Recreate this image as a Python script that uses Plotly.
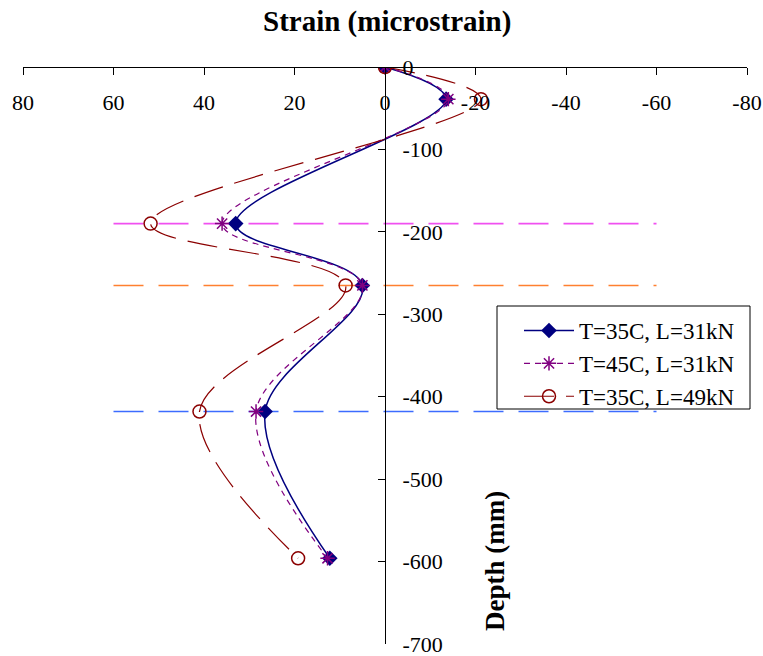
import plotly.graph_objects as go

depth = [0, -39, -190, -265, -418, -596]
s_35_31 = [0, -13.5, 33, 5, 26.5, 12.2]
s_45_31 = [0, -14, 36, 5, 28.5, 12.7]
s_35_49 = [0, -21.2, 51.8, 8.7, 41, 19.2]
names = ["T=35C, L=31kN", "T=45C, L=31kN", "T=35C, L=49kN"]

ref_depths = [-190, -265, -418]
ref_colors = ["#F050F0", "#FF8030", "#3C6CFF"]
ref_x = [60, -60]

xticks = [80, 60, 40, 20, 0, -20, -40, -60, -80]
yticks = [0, -100, -200, -300, -400, -500, -600, -700]

FONT = "Liberation Serif"

W, H, L, R, T, B = 763, 656, 23, 16, 67, 12
pw, ph = W - L - R, H - T - B


def px(x):
    return (x - L) / pw


def py(y):
    return (H - B - y) / ph


fig = go.Figure()

for d, c in zip(ref_depths, ref_colors):
    fig.add_trace(go.Scatter(x=ref_x, y=[d, d], mode="lines",
                             line=dict(color=c, width=1.6, dash="30px,15px"),
                             showlegend=False, hoverinfo="skip"))

fig.add_trace(go.Scatter(x=s_35_31, y=depth, name=names[0], mode="lines+markers",
                         line=dict(color="#000080", width=1.5, shape="spline", smoothing=1.0),
                         marker=dict(symbol="diamond", size=12, color="#000080")))
fig.add_trace(go.Scatter(x=s_45_31, y=depth, name=names[1], mode="lines+markers",
                         line=dict(color="#800080", width=1.2, shape="spline", smoothing=1.0, dash="6px,5px"),
                         marker=dict(symbol="asterisk-open", size=12, line=dict(color="#800080", width=1.5))))
fig.add_trace(go.Scatter(x=s_35_49, y=depth, name=names[2], mode="lines+markers",
                         line=dict(color="#8B0000", width=1.2, shape="spline", smoothing=1.0, dash="30px,12px"),
                         marker=dict(symbol="circle-open", size=13, color="#8B0000", line=dict(width=1.5))))

fig.update_layout(
    width=W, height=H,
    margin=dict(l=L, r=R, t=T, b=B, autoexpand=False),
    paper_bgcolor="white", plot_bgcolor="white",
    font=dict(family=FONT, color="black", size=22),
    showlegend=True,
    legend=dict(x=px(519), y=py(309), xanchor="left", yanchor="top",
                bgcolor="rgba(0,0,0,0)", borderwidth=0,
                font=dict(family=FONT, size=23), itemwidth=50, tracegroupgap=0),
    xaxis=dict(range=[80, -80], tickvals=xticks, ticktext=[str(v) for v in xticks],
               anchor="free", position=1, side="bottom", showgrid=False, zeroline=False,
               showline=True, linecolor="black", linewidth=1, automargin=False,
               ticks="outside", ticklen=7, tickcolor="black", ticklabeloverflow="allow",
               ticklabelstandoff=9, tickfont=dict(family=FONT, size=22)),
    yaxis=dict(range=[-700, 0], tickvals=yticks, ticktext=[str(v) for v in yticks],
               anchor="free", position=0.5, side="right", showgrid=False, zeroline=False,
               showline=True, linecolor="black", linewidth=1, automargin=False,
               ticks="inside", ticklen=7, tickcolor="black", ticklabeloverflow="allow",
               ticklabelstandoff=12, tickfont=dict(family=FONT, size=22)),
    shapes=[dict(type="rect", xref="paper", yref="paper",
                 x0=px(497), x1=px(750), y0=py(306), y1=py(409),
                 line=dict(color="black", width=1), fillcolor="white", layer="above")],
    annotations=[
        dict(text="<b>Strain (microstrain)</b>", x=px(387), y=py(22), xref="paper", yref="paper",
             xanchor="center", yanchor="middle",
             showarrow=False, font=dict(family=FONT, size=29)),
        dict(text="<b>Depth (mm)</b>", textangle=-90, x=px(495), y=py(561), xref="paper", yref="paper",
             xanchor="center", yanchor="middle",
             showarrow=False, font=dict(family=FONT, size=27)),
    ],
)

fig.write_html("out.html")
